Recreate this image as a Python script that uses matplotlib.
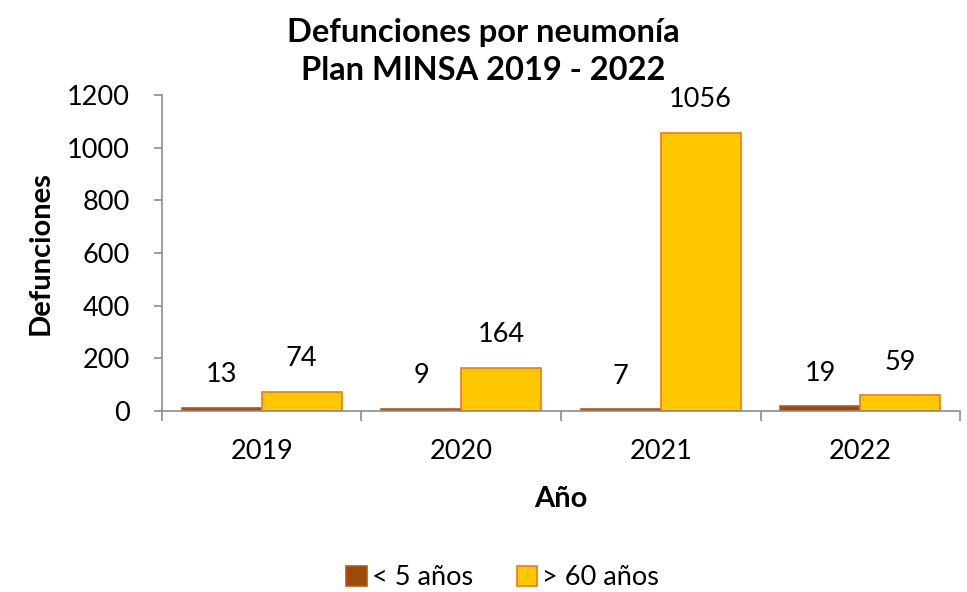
import matplotlib
matplotlib.use("Agg")
import matplotlib.pyplot as plt
import numpy as np

years = ["2019", "2020", "2021", "2022"]
menores_5 = [13, 9, 7, 19]
mayores_60 = [74, 164, 1056, 59]
series_names = ["< 5 años", "> 60 años"]

plt.rcParams["font.family"] = ["Lato", "DejaVu Sans"]

fig = plt.figure(figsize=(9.67, 5.92), dpi=100)
ax = fig.add_axes([0.1675, 0.3057, 0.8253, 0.5338])

x = np.arange(len(years))
w = 0.4
b1 = ax.bar(x - w / 2, menores_5, w, color="#9C4A0B", edgecolor="#C0560F", lw=1.2, label=series_names[0])
b2 = ax.bar(x + w / 2, mayores_60, w, color="#FFC800", edgecolor="#EE7A1A", lw=1.2, label=series_names[1])

for bars, vals in ((b1, menores_5), (b2, mayores_60)):
    for r, v in zip(bars, vals):
        ax.annotate(str(v), (r.get_x() + r.get_width() / 2, r.get_height()),
                    xytext=(0, 33), textcoords="offset pixels",
                    ha="center", va="center", fontsize=19.5)

ax.set_xlim(-0.5, len(years) - 0.5)
ax.set_ylim(0, 1200)
ax.set_yticks(range(0, 1201, 200))
ax.set_xticks(x)
ax.set_xticklabels(years)
ax.set_xticks(np.arange(-0.5, len(years)), minor=True)
ax.tick_params(axis="x", which="major", length=0, pad=20, labelsize=19.5)
ax.tick_params(axis="x", which="minor", length=7, color="#8c8c8c", width=1.2)
ax.tick_params(axis="y", length=6, color="#8c8c8c", width=1.2, labelsize=19.5, pad=17)
for s in ("top", "right"):
    ax.spines[s].set_visible(False)
for s in ("left", "bottom"):
    ax.spines[s].set_color("#8c8c8c")
    ax.spines[s].set_linewidth(1.2)

ax.set_ylabel("Defunciones", fontsize=21, fontweight="bold", labelpad=10)
ax.set_xlabel("Año", fontsize=21, fontweight="bold", labelpad=16)
fig.text(0.5, 0.913, "Defunciones por neumonía\nPlan MINSA 2019 - 2022", ha="center", va="center",
         fontsize=23.5, fontweight="bold", linespacing=1.4)

fig.legend(handles=[b1, b2], loc="center", bbox_to_anchor=(0.52, 0.024), ncol=2, frameon=False,
           fontsize=19.5, handlelength=0.75, handleheight=0.75, handletextpad=0.2, columnspacing=1.6)

fig.savefig("out.png", dpi=100)
